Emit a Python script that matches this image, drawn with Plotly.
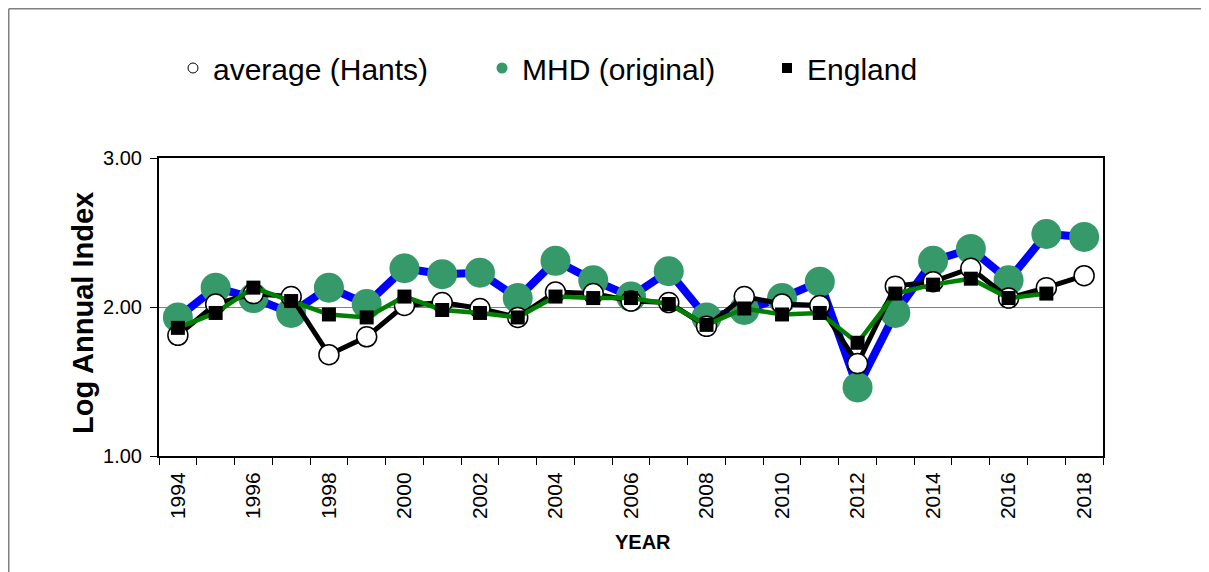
import plotly.graph_objects as go

years = list(range(1994, 2019))
mhd = [1.93, 2.13, 2.06, 1.96, 2.13, 2.02, 2.26, 2.22, 2.23, 2.06, 2.31, 2.18, 2.07,
       2.24, 1.93, 1.98, 2.06, 2.17, 1.46, 1.96, 2.31, 2.39, 2.18, 2.49, 2.47]
avg_hants = [1.81, 2.02, 2.09, 2.07, 1.68, 1.80, 2.01, 2.03, 1.99, 1.93, 2.10, 2.09, 2.04,
             2.03, 1.87, 2.07, 2.02, 2.01, 1.62, 2.14, 2.17, 2.26, 2.06, 2.13, 2.21]
england = [1.86, 1.96, 2.13, 2.04, 1.95, 1.93, 2.07, 1.98, 1.96, 1.93, 2.07, 2.06, 2.06,
           2.02, 1.88, 1.99, 1.95, 1.96, 1.76, 2.09, 2.15, 2.19, 2.06, 2.09, None]
label_years = list(range(1994, 2019, 2))
boundaries = [y - 0.5 for y in range(1994, 2020)]
ytick_vals = [1.0, 2.0, 3.0]

FONT = "Liberation Sans, Arial, sans-serif"
GREEN_DOT = "#36996A"

# page offset caused by the default body margin
OFF = 8
W, H = 1209, 572
L, R, T, B = 159 - OFF, 1103 - OFF, 158 - OFF, 456 - OFF
PW, PH = R - L, B - T

def px(x):  # page pixel -> paper x
    return (x - OFF - L) / PW

def py(y):  # page pixel -> paper y
    return (B - (y - OFF)) / PH

fig = go.Figure()

fig.add_trace(go.Scatter(
    x=years, y=mhd, mode="lines+markers", showlegend=False,
    line=dict(color="#0000FF", width=8),
    marker=dict(color=GREEN_DOT, size=30, line=dict(width=0)),
))
fig.add_trace(go.Scatter(
    x=years, y=avg_hants, mode="lines+markers", showlegend=False,
    line=dict(color="#000000", width=5),
    marker=dict(color="#FFFFFF", size=20, line=dict(color="#000000", width=1.5)),
))
fig.add_trace(go.Scatter(
    x=years, y=england, mode="lines+markers", showlegend=False,
    line=dict(color="#008000", width=4.5),
    marker=dict(color="#000000", size=14, symbol="square", line=dict(width=0)),
))

fig.add_trace(go.Scatter(
    x=[None], y=[None], mode="markers", name="average (Hants)", legend="legend",
    marker=dict(color="#FFFFFF", size=10, line=dict(color="#000000", width=1)),
))
fig.add_trace(go.Scatter(
    x=[None], y=[None], mode="markers", name="MHD (original)", legend="legend2",
    marker=dict(color=GREEN_DOT, size=11, line=dict(width=0)),
))
fig.add_trace(go.Scatter(
    x=[None], y=[None], mode="markers", name="England", legend="legend3",
    marker=dict(color="#000000", size=10, symbol="square", line=dict(width=0)),
))

leg_common = dict(
    orientation="h", xref="container", yref="container", xanchor="left",
    yanchor="middle", y=1 - (68 - OFF) / H, bgcolor="rgba(0,0,0,0)",
    font=dict(family=FONT, size=30, color="#000000"), itemsizing="trace",
)

frame_line = dict(color="#808080", width=1.5)

fig.update_layout(
    width=W, height=H,
    margin=dict(l=L, r=W - R, t=T, b=H - B),
    paper_bgcolor="#FFFFFF", plot_bgcolor="#FFFFFF",
    font=dict(family=FONT, color="#000000"),
    legend=dict(x=(193 - OFF - 20) / W, **leg_common),
    legend2=dict(x=(502 - OFF - 20) / W, **leg_common),
    legend3=dict(x=(787 - OFF - 20) / W, **leg_common),
    xaxis=dict(
        range=[1993.5, 2018.5], tickmode="array", tickvals=label_years,
        ticktext=[str(y) for y in label_years], ticks="", tickangle=-90,
        tickfont=dict(family=FONT, size=21, color="#000000"),
        showgrid=False, zeroline=False, showline=True, linecolor="#000000",
        linewidth=2, mirror=True, ticklabelstandoff=6,
        minor=dict(tickmode="array", tickvals=boundaries, ticks="outside",
                   ticklen=7, tickwidth=1, tickcolor="#000000", showgrid=False),
    ),
    yaxis=dict(
        range=[1, 3], tickmode="array", tickvals=ytick_vals, tickformat=".2f",
        ticks="outside", ticklen=7, tickwidth=1, tickcolor="#000000",
        tickfont=dict(family=FONT, size=20, color="#000000"),
        showgrid=True, gridcolor="#808080", gridwidth=1, zeroline=False,
        showline=True, linecolor="#000000", linewidth=2, mirror=True,
        ticklabelstandoff=4,
    ),
    annotations=[
        dict(text="<b>Log Annual Index</b>", xref="paper", yref="paper",
             x=px(82.5), y=py(313.5), xanchor="center", yanchor="middle",
             textangle=-90, showarrow=False,
             font=dict(family=FONT, size=29, color="#000000")),
        dict(text="<b>YEAR</b>", xref="paper", yref="paper",
             x=px(643), y=py(542), xanchor="center", yanchor="middle",
             showarrow=False, font=dict(family=FONT, size=20, color="#000000")),
    ],
    shapes=[
        dict(type="line", xref="paper", yref="paper",
             x0=px(OFF + 0.75), x1=px(1207), y0=py(OFF + 0.75), y1=py(OFF + 0.75),
             line=frame_line, layer="below"),
        dict(type="line", xref="paper", yref="paper",
             x0=px(OFF + 0.75), x1=px(OFF + 0.75), y0=py(OFF + 0.75), y1=py(590),
             line=frame_line, layer="below"),
    ],
)

fig.write_html("out.html")
